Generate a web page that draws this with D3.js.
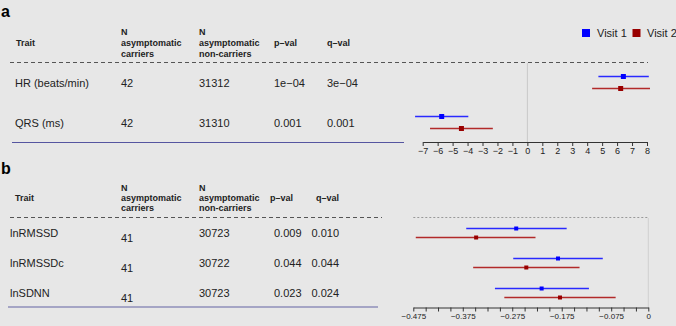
<!DOCTYPE html>
<html>
<head>
<meta charset="utf-8">
<script src="https://cdn.jsdelivr.net/npm/d3@7"></script>
<style>
  html, body { margin: 0; padding: 0; background: #e7e7e7; }
  svg { display: block; font-family: "Liberation Sans", Arial, sans-serif; }
</style>
</head>
<body>
<svg id="chart" width="676" height="326"></svg>
<script>
// panel a
var traitsA = ["HR (beats/min)", "QRS (ms)"];
var nCarriersA = ["42", "42"];
var nNonCarriersA = ["31312", "31310"];
var pvalA = ["1e\u221204", "0.001"];
var qvalA = ["3e\u221204", "0.001"];
var v1EstA = [6.42, -5.73], v1LoA = [4.75, -7.51], v1HiA = [8.12, -3.95];
var v2EstA = [6.24, -4.41], v2LoA = [4.33, -6.51], v2HiA = [8.2, -2.31];

// panel b
var traitsB = ["lnRMSSD", "lnRMSSDc", "lnSDNN"];
var nCarriersB = ["41", "41", "41"];
var nNonCarriersB = ["30723", "30722", "30723"];
var pvalB = ["0.009", "0.044", "0.023"];
var qvalB = ["0.010", "0.044", "0.024"];
var v1EstB = [-0.267, -0.1825, -0.2156], v1LoB = [-0.368, -0.273, -0.31], v1HiB = [-0.165, -0.092, -0.12];
var v2EstB = [-0.348, -0.2466, -0.1785], v2LoB = [-0.470, -0.354, -0.291], v2HiB = [-0.228, -0.139, -0.066];

var ticksA = d3.range(-7, 9);
var ticksB = d3.range(0, 20).map(function (i) { return +(-0.475 + i * 0.025).toFixed(3); });
var labelledB = [-0.475, -0.375, -0.275, -0.175, -0.075, 0];

var visits = ["Visit 1", "Visit 2"];
var dotColor = ["#0000ff", "#990000"];
var lineColor = ["#2a2aff", "#b22a2a"];

var svg = d3.select("#chart");

function header(g, cols, yTop, step) {
    var t = g.append("g").attr("font-weight", "bold").attr("font-size", 9).attr("fill", "#222");
    t.append("text").attr("x", cols.trait).attr("y", yTop + step + 3).text("Trait");
    [[cols.n1, ["N", "asymptomatic", "carriers"]], [cols.n2, ["N", "asymptomatic", "non-carriers"]]].forEach(function (c) {
        c[1].forEach(function (s, i) {
            t.append("text").attr("x", c[0]).attr("y", yTop + i * step + 3).text(s);
        });
    });
    t.append("text").attr("x", cols.p).attr("y", yTop + step + 3).text("p\u2013val");
    t.append("text").attr("x", cols.q).attr("y", yTop + step + 3).text("q\u2013val");
}

function rows(g, traits, n1, n2, pv, qv, y, cols, n1Shift) {
    var r = g.append("g").attr("font-size", 11).attr("fill", "#222");
    traits.forEach(function (tr, i) {
        var yy = y(tr) + 4;
        r.append("text").attr("x", cols.rowTrait).attr("y", yy).text(tr);
        r.append("text").attr("x", cols.n1).attr("y", yy + n1Shift).text(n1[i]);
        r.append("text").attr("x", cols.n2).attr("y", yy).text(n2[i]);
        r.append("text").attr("x", cols.rowP).attr("y", yy).text(pv[i]);
        r.append("text").attr("x", cols.rowQ).attr("y", yy).text(qv[i]);
    });
}

function forest(g, traits, est, lo, hi, x, y, offs, sq) {
    [0, 1].forEach(function (v) {
        var gg = g.append("g");
        gg.selectAll("line").data(traits).enter().append("line")
            .attr("x1", function (d, i) { return x(lo[v][i]); })
            .attr("x2", function (d, i) { return x(hi[v][i]); })
            .attr("y1", function (d) { return y(d) + offs[v]; })
            .attr("y2", function (d) { return y(d) + offs[v]; })
            .attr("stroke", lineColor[v]).attr("stroke-width", 1.3);
        gg.selectAll("rect").data(traits).enter().append("rect")
            .attr("x", function (d, i) { return x(est[v][i]) - sq / 2; })
            .attr("y", function (d) { return y(d) + offs[v] - sq / 2; })
            .attr("width", sq).attr("height", sq)
            .attr("fill", dotColor[v]);
    });
}

// ---------- panel a ----------
var a = svg.append("g");
a.append("text").attr("x", 1).attr("y", 17).attr("font-size", 16).attr("font-weight", "bold").text("a");

var colsA = {trait: 16, rowTrait: 15, n1: 121, n2: 199, p: 274, q: 327, rowP: 274, rowQ: 327};
header(a, colsA, 32, 11);

var yA = d3.scalePoint().domain(traitsA).range([82.5, 122.5]);
rows(a, traitsA, nCarriersA, nNonCarriersA, pvalA, qvalA, yA, colsA, 0);

a.append("line").attr("x1", 10).attr("x2", 648).attr("y1", 62.5).attr("y2", 62.5)
    .attr("stroke", "#555").attr("stroke-dasharray", "4,3");
a.append("line").attr("x1", 12).attr("x2", 404).attr("y1", 142.5).attr("y2", 142.5)
    .attr("stroke", "#5555a0").attr("stroke-width", 1.2);

var xA = d3.scaleLinear().domain([-7, 8]).range([422.7, 647]);
a.append("line").attr("x1", xA(0)).attr("x2", xA(0)).attr("y1", 63).attr("y2", 142)
    .attr("stroke", "#c8c8c8");

var axA = a.append("g").attr("transform", "translate(0,142)")
    .call(d3.axisBottom(xA).tickValues(ticksA).tickSize(4).tickPadding(2).tickSizeOuter(0));
axA.select(".domain").attr("stroke", "#333");
axA.selectAll(".tick line").attr("stroke", "#333");
axA.selectAll("text").attr("font-size", 9).attr("fill", "#222").attr("font-family", "Liberation Sans, Arial, sans-serif");

forest(a, traitsA, [v1EstA, v2EstA], [v1LoA, v2LoA], [v1HiA, v2HiA], xA, yA, [-6, 6], 5);

// legend
var leg = a.append("g").attr("font-size", 11).attr("fill", "#222");
[[582, 597], [632.5, 647]].forEach(function (p, i) {
    leg.append("rect").attr("x", p[0]).attr("y", 29).attr("width", 8).attr("height", 8).attr("fill", dotColor[i]);
    leg.append("text").attr("x", p[1]).attr("y", 37).text(visits[i]);
});

// ---------- panel b ----------
var b = svg.append("g");
b.append("text").attr("x", 1).attr("y", 174).attr("font-size", 16).attr("font-weight", "bold").text("b");

var colsB = {trait: 15, rowTrait: 10, n1: 121, n2: 199, p: 270, q: 316, rowP: 274, rowQ: 311.5};
header(b, colsB, 188, 10);

var yB = d3.scalePoint().domain(traitsB).range([233, 293]);
rows(b, traitsB, nCarriersB, nNonCarriersB, pvalB, qvalB, yB, colsB, 5);

b.append("line").attr("x1", 10).attr("x2", 382).attr("y1", 217.5).attr("y2", 217.5)
    .attr("stroke", "#555").attr("stroke-dasharray", "4,3");
b.append("line").attr("x1", 8).attr("x2", 378).attr("y1", 307).attr("y2", 307)
    .attr("stroke", "#8f8fba").attr("stroke-width", 1.3);

var xB = d3.scaleLinear().domain([-0.475, 0]).range([413.3, 648.3]);
b.append("line").attr("x1", xB(-0.475)).attr("x2", xB(0)).attr("y1", 217.5).attr("y2", 217.5)
    .attr("stroke", "#999").attr("stroke-dasharray", "2,2");
b.append("line").attr("x1", xB(0)).attr("x2", xB(0)).attr("y1", 218).attr("y2", 307)
    .attr("stroke", "#d0d0d0");

var axB = b.append("g").attr("transform", "translate(0,307.5)")
    .call(d3.axisBottom(xB).tickValues(ticksB).tickSize(4).tickPadding(2).tickSizeOuter(0)
        .tickFormat(function (d) {
            if (labelledB.indexOf(d) < 0) return "";
            return d === 0 ? "0" : d3.format(".3f")(d);
        }));
axB.select(".domain").attr("stroke", "#333");
axB.selectAll(".tick line").attr("stroke", "#333");
axB.selectAll("text").attr("font-size", 8).attr("fill", "#222").attr("font-family", "Liberation Sans, Arial, sans-serif");

forest(b, traitsB, [v1EstB, v2EstB], [v1LoB, v2LoB], [v1HiB, v2HiB], xB, yB, [-4.5, 4.5], 4);
</script>
</body>
</html>
